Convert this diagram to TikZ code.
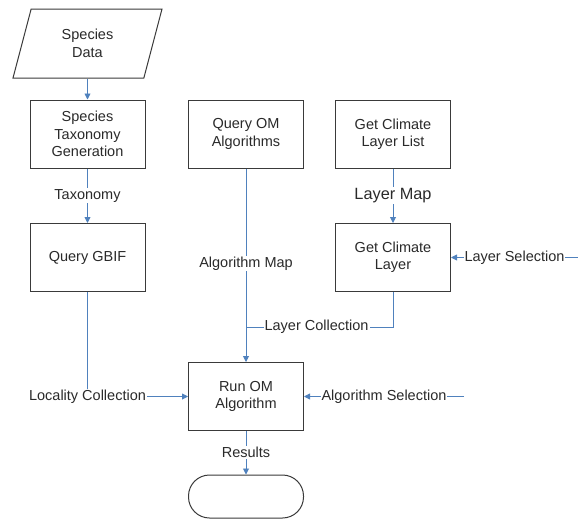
\documentclass[tikz,border=0pt]{standalone}
\usepackage{fontspec}
\setmainfont{Liberation Sans}
\usetikzlibrary{positioning,shapes.geometric,arrows.meta}

\definecolor{flowblue}{HTML}{4F81BD}
\definecolor{boxgray}{HTML}{3A3A3A}
\definecolor{txtgray}{HTML}{2A2A2A}

\tikzset{
  txt/.style={text=txtgray, font=\fontsize{14.5}{17.4}\selectfont},
  box/.style={txt, draw=boxgray, line width=1pt, fill=white,
    minimum width=115pt, minimum height=68pt, align=center},
  datain/.style={box, trapezium, trapezium left angle=62.4,
    trapezium right angle=117.6, trapezium stretches body,
    minimum width=149pt, minimum height=69pt},
  stopend/.style={box, rounded corners=21pt, minimum height=43pt},
  lbl/.style={txt, fill=white, inner sep=1pt},
  biglbl/.style={lbl, font=\fontsize{16.3}{19.5}\selectfont},
  link/.style={draw=flowblue, line width=0.9pt},
  flow/.style={link, -{Triangle[length=6pt,width=6pt]}},
}

\begin{document}
\begin{tikzpicture}[x=1pt, y=-1pt]
\useasboundingbox (0,0) rectangle (578,520);
\def\xa{87.5};
\def\xb{246};
\def\xc{393};

\def\ya{43.5};
\def\yb{134};
\def\yc{257.5};
\def\yd{396.5};
\def\ye{496.5};

\node[datain] (data) at (\xa, \ya) {Species\\Data};
\node[box] (taxgen) at (\xa, \yb) {Species\\Taxonomy\\Generation};
\node[box] (gbif) at (\xa, \yc) {Query GBIF};
\node[box] (omalgs) at (\xb, \yb) {Query OM\\Algorithms};
\node[box] (laylist) at (\xc, \yb) {Get Climate\\Layer List};
\node[box] (climlayer) at (\xc, \yc) {Get Climate\\Layer};
\node[box] (runom) at (\xb, \yd) {Run OM\\Algorithm};
\node[stopend] (done) at (\xb, \ye) {};

\coordinate (join) at (\xb, 327);
\coordinate (layin) at (578, \yc);
\coordinate (algin) at (464, \yd);
\node[lbl] (locality) at (gbif |- runom) {Locality Collection};

\draw[flow] (data) -- (taxgen);
\draw[flow] (taxgen) -- node[lbl] {Taxonomy} (gbif);
\draw[flow] (laylist) -- node[biglbl] {Layer Map} (climlayer);
\draw[flow] (omalgs) -- node[lbl, pos=0.49] {Algorithm Map} (runom);
\draw[link] (climlayer) |- node[lbl, pos=0.76] {Layer Collection} (join);
\draw[flow] (layin) -- node[lbl] {Layer Selection} (climlayer);
\draw[link] (gbif) -- (locality);
\draw[flow] (locality) -- (runom);
\draw[flow] (algin) -- node[lbl] {Algorithm Selection} (runom);
\draw[flow] (runom) -- node[lbl] {Results} (done);

\end{tikzpicture}
\end{document}
